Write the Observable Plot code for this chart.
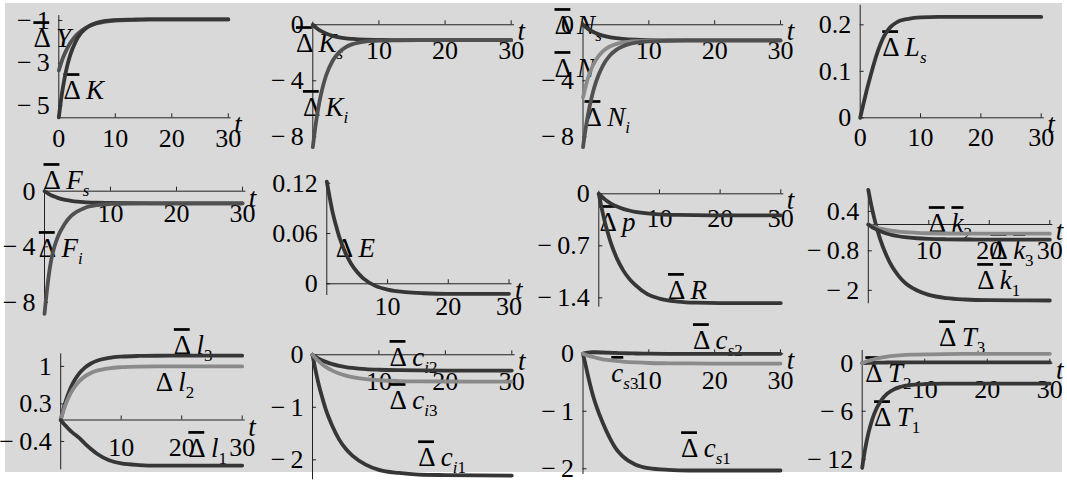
<!DOCTYPE html>
<html><head><meta charset="utf-8">
<script src="https://cdn.jsdelivr.net/npm/d3@7"></script>
<script src="https://cdn.jsdelivr.net/npm/@observablehq/plot@0.6"></script>
<style>
html,body{margin:0;padding:0;background:#fff;}
#chart{position:relative;width:1067px;height:490px;overflow:hidden;}
#bg{position:absolute;left:5px;top:3px;width:1057px;height:469px;background:#d9d9d9;}
#chart svg{position:absolute;left:0;top:0;}
#chart svg text{font-family:"Liberation Serif","Times New Roman",serif !important;}
</style></head><body><div id="chart"><div id="bg"></div></div>
<script>
// time grid
const T = [0,0.5,1,1.5,2,3,4,5,6,8,10,13,16,20,30];
// panel 1
const dY  = [-3.35,-2.93,-2.59,-2.31,-2.07,-1.72,-1.48,-1.31,-1.20,-1.07,-1.00,-0.97,-0.95,-0.95,-0.95];
const dK  = [-5.55,-4.53,-3.74,-3.12,-2.64,-1.98,-1.57,-1.33,-1.18,-1.03,-0.98,-0.96,-0.95,-0.95,-0.95];
// panel 2
const dKs = [0,-0.21,-0.38,-0.51,-0.62,-0.79,-0.90,-0.97,-1.01,-1.06,-1.08,-1.10,-1.10,-1.10,-1.10];
const dKi = [-8.74,-6.91,-5.51,-4.45,-3.64,-2.57,-1.95,-1.59,-1.38,-1.19,-1.13,-1.11,-1.10,-1.10,-1.10];
// panel 3
const dNs = [0,-0.20,-0.37,-0.50,-0.61,-0.78,-0.89,-0.96,-1.01,-1.07,-1.10,-1.12,-1.12,-1.12,-1.12];
const dN  = [-5.2,-4.22,-3.47,-2.91,-2.48,-1.90,-1.57,-1.38,-1.27,-1.17,-1.14,-1.12,-1.12,-1.12,-1.12];
const dNi = [-8.74,-7.12,-5.84,-4.83,-4.04,-2.93,-2.24,-1.81,-1.55,-1.28,-1.18,-1.14,-1.12,-1.12,-1.12];
// panel 4
const dLs = [0,0.028,0.055,0.08,0.104,0.146,0.177,0.195,0.205,0.213,0.216,0.217,0.217,0.217,0.217];
// panel 5
const dFs = [0,-0.16,-0.29,-0.39,-0.48,-0.61,-0.69,-0.75,-0.79,-0.83,-0.85,-0.865,-0.87,-0.87,-0.87];
const dFi = [-8.82,-6.6,-5.0,-4.0,-3.3,-2.4,-1.8,-1.45,-1.22,-1.0,-0.92,-0.885,-0.875,-0.87,-0.87];
// panel 6
const dE  = [0.122,0.102,0.084,0.070,0.057,0.038,0.024,0.014,0.0065,-0.0025,-0.007,-0.010,-0.0113,-0.012,-0.012];
// panel 7
const dp  = [0,-0.04,-0.075,-0.105,-0.131,-0.172,-0.203,-0.225,-0.242,-0.264,-0.276,-0.284,-0.288,-0.29,-0.29];
const dR  = [0,-0.204,-0.381,-0.532,-0.663,-0.872,-1.027,-1.142,-1.227,-1.35,-1.41,-1.45,-1.465,-1.47,-1.47];
// panel 8
const dk1 = [1.05,0.58,0.18,-0.17,-0.47,-0.94,-1.30,-1.56,-1.76,-2.00,-2.14,-2.24,-2.28,-2.30,-2.31];
const dk2 = [0,-0.04,-0.07,-0.10,-0.126,-0.166,-0.196,-0.218,-0.234,-0.255,-0.266,-0.274,-0.278,-0.28,-0.28];
const dk3 = [0,-0.064,-0.119,-0.167,-0.207,-0.273,-0.321,-0.357,-0.384,-0.418,-0.437,-0.45,-0.456,-0.459,-0.46];
// panel 9
const dl3 = [0,0.227,0.412,0.56,0.682,0.859,0.977,1.054,1.104,1.158,1.182,1.195,1.199,1.2,1.2];
const dl2 = [0,0.19,0.343,0.467,0.568,0.716,0.814,0.878,0.92,0.965,0.985,0.996,0.999,1.0,1.0];
const dl1 = [0,-0.07,-0.13,-0.19,-0.24,-0.33,-0.44,-0.54,-0.63,-0.75,-0.81,-0.84,-0.85,-0.85,-0.85];
// panel 10
const dci1 = [0,-0.32,-0.60,-0.83,-1.04,-1.36,-1.61,-1.79,-1.92,-2.09,-2.19,-2.25,-2.28,-2.29,-2.30];
const dci2 = [0,-0.042,-0.078,-0.109,-0.135,-0.178,-0.21,-0.233,-0.25,-0.273,-0.285,-0.294,-0.298,-0.3,-0.3];
const dci3 = [0,-0.071,-0.132,-0.185,-0.23,-0.302,-0.356,-0.396,-0.426,-0.464,-0.485,-0.5,-0.506,-0.509,-0.51];
// panel 11
const dcs1 = [0,-0.25,-0.5,-0.72,-0.9,-1.2,-1.45,-1.65,-1.78,-1.93,-1.99,-2.02,-2.03,-2.03,-2.03];
const dcs2 = [0,0.015,0.025,0.028,0.028,0.025,0.02,0.015,0.01,0.005,0.002,0,0,0,0];
const dcs3 = [0,-0.02,-0.04,-0.055,-0.07,-0.095,-0.11,-0.125,-0.135,-0.15,-0.16,-0.165,-0.168,-0.17,-0.17];
// panel 12
const dT1 = [-13.05,-10.6,-8.73,-7.30,-6.18,-4.69,-3.81,-3.30,-2.99,-2.70,-2.60,-2.56,-2.55,-2.55,-2.55];
const dT2 = [0,0.02,0.04,0.05,0.06,0.08,0.09,0.1,0.1,0.1,0.1,0.1,0.1,0.1,0.1];
const dT3 = [0,0.163,0.303,0.424,0.528,0.694,0.818,0.909,0.977,1.064,1.112,1.147,1.161,1.167,1.17];

// ticks
const xTicks = [10,20,30];
const xLabelsA = [0,10,20,30];
const xLabelsB = [10,20,30];
const yTicks1 = [-1,-3,-5],   yLab1 = ["−\u20091","−\u20093","−\u20095"];
const yTicks2 = [0,-4,-8],    yLab2 = ["0","−\u20094","−\u20098"];
const yTicks4 = [0,0.1,0.2],  yLab4 = ["0","0.1","0.2"];
const yTicks6 = [0,0.06,0.12],yLab6 = ["0","0.06","0.12"];
const yTicks7 = [0,-0.7,-1.4],yLab7 = ["0","−\u20090.7","−\u20091.4"];
const yTicks8 = [0.4,-0.8,-2],yLab8 = ["0.4","−\u20090.8","−\u20092"];
const yTicks9 = [1,0.3,-0.4], yLab9 = ["1","0.3","−\u20090.4"];
const yTicks10 = [0,-1,-2],   yLab10 = ["0","−\u20091","−\u20092"];
const yTicks12 = [0,-6,-12],  yLab12 = ["0","−\u20096","−\u200912"];

const DARK="#363636", MID="#505050", LIGHT="#8a8a8a", AX="#222";

const panels = [
 {s:[[dY,MID],[dK,DARK]], x:[58.3,227.8], y:[-5.57,-0.77], r:[117.3,15.1], at:-5.57, xl:xLabelsA, yt:yTicks1, yl:yLab1, ldy:21,
  lab:[["‾Δ Y",-4.5,-1.85],["‾Δ K",0.83,-4.29]]},
 {s:[[dKs,DARK],[dKi,MID]], x:[312.3,510.7], y:[-8.74,0.19], r:[146.7,21.6], at:0, xl:xLabelsB, yt:yTicks2, yl:yLab2, ldy:26,
  lab:[["‾Δ K_s",-2.55,-1.34],["‾Δ K_i",-1.5,-5.9]]},
 {s:[[dNs,DARK],[dN,LIGHT],[dNi,MID]], x:[582.5,780], y:[-8.74,0.19], r:[146.7,21.6], at:0, xl:xLabelsB, yt:yTicks2, yl:yLab2, ldy:26,
  lab:[["‾Δ N_s",-4.33,-0.05],["‾Δ N",-4.33,-3.12],["‾Δ N_i",0.23,-6.62]]},
 {s:[[dLs,DARK]], x:[859.7,1040.7], y:[0,0.242], r:[117.3,4.8], at:0, xl:xLabelsA, yt:yTicks4, yl:yLab4, ldy:19.5,
  lab:[["‾Δ L_s",3.65,0.151]]},
 {s:[[dFs,DARK],[dFi,MID]], x:[44,242], y:[-8.82,0.2], r:[313.3,187.9], at:0, xl:xLabelsB, yt:yTicks2, yl:yLab2, ldy:22.5,
  lab:[["‾Δ F_s",-0.15,0.77],["‾Δ F_i",-0.86,-4.12]]},
 {s:[[dE,DARK]], x:[326.3,508.5], y:[-0.014,0.1233], r:[295,180], at:0, xl:xLabelsB, yt:yTicks6, yl:yLab6, ldy:22.5,
  lab:[["Δ E",1.48,0.042]]},
 {s:[[dp,DARK],[dR,DARK]], x:[598.3,780.3], y:[-1.526,0.035], r:[306.7,190.7], at:0, xl:xLabelsB, yt:yTicks7, yl:yLab7, ldy:25,
  lab:[["‾Δ p",0.1,-0.386],["‾Δ R",11.4,-1.30]]},
 {s:[[dk1,DARK],[dk2,LIGHT],[dk3,DARK]], x:[867.8,1049.3], y:[-2.41,1.085], r:[303.3,188.3], at:0, xl:xLabelsB, yt:yTicks8, yl:yLab8, ldy:26,
  lab:[["‾Δ ‾k_2",10.0,0.03],["‾Δ ‾k_3",20.2,-0.79],["‾Δ ‾k_1",18.0,-1.70]]},
 {s:[[dl3,DARK],[dl2,LIGHT],[dl1,DARK]], x:[60.2,241.7], y:[-0.929,1.235], r:[469.3,353.3], at:0, xl:xLabelsB, yt:yTicks9, yl:yLab9, ldy:28,
  lab:[["‾Δ l_3",18.7,1.39],["‾Δ l_2",15.7,0.70],["‾Δ l_1",21.1,-0.53]]},
 {s:[[dci1,DARK],[dci2,DARK],[dci3,LIGHT]], x:[312,511.3], y:[-2.38,0.03], r:[479.3,352.7], at:0, xl:xLabelsB, yt:yTicks10, yl:yLab10, ldy:27,
  lab:[["‾Δ c_i2",11.6,-0.05],["‾Δ c_i3",11.6,-0.87],["‾Δ c_i1",15.9,-1.96]]},
 {s:[[dcs1,DARK],[dcs2,DARK],[dcs3,LIGHT]], x:[582.5,780], y:[-2.1,0.026], r:[474,351.8], at:0, xl:xLabelsB, yt:yTicks10, yl:yLab10, ldy:27,
  lab:[["‾Δ c_s2",16.7,0.23],["‾c_s3",4.3,-0.34],["‾Δ c_s1",14.9,-1.65]]},
 {s:[[dT1,DARK],[dT2,DARK],[dT3,LIGHT]], x:[861.7,1049.3], y:[-13.41,1.59], r:[470,350], at:0, xl:xLabelsB, yt:yTicks12, yl:yLab12, ldy:26,
  lab:[["‾Δ T_3",12.3,3.2],["‾Δ T_2",0.5,-1.29],["‾Δ T_1",1.9,-6.8]]}
];

const SVGNS = "http://www.w3.org/2000/svg";
function richify(svg) {
  svg.querySelectorAll("text").forEach(el => {
    const s = el.textContent;
    if (!/[‾_Δ]/.test(s)) return;
    while (el.firstChild) el.removeChild(el.firstChild);
    let bar = false, sub = false, firstSub = false;
    for (const ch of Array.from(s)) {
      if (ch === "‾") { bar = true; continue; }
      if (ch === "_") { sub = true; firstSub = true; continue; }
      const ts = document.createElementNS(SVGNS, "tspan");
      ts.textContent = ch;
      if (/[A-Za-z]/.test(ch)) ts.setAttribute("font-style", "italic");
      if (bar) {
        ts.setAttribute("text-decoration", "overline");
        ts.style.textDecoration = "overline";
        ts.style.textDecorationThickness = "1.3px";
        bar = false;
      }
      if (sub) {
        ts.setAttribute("font-size", "17");
        if (firstSub) { ts.setAttribute("dy", "7"); firstSub = false; }
      }
      el.appendChild(ts);
    }
  });
}

const chart = document.getElementById("chart");
panels.forEach(p => {
  const at = p.at;
  const marks = [
    Plot.ruleY([at], {y: d => d, x1: () => 0, x2: () => 30.5, stroke: AX, strokeWidth: 1}),
    Plot.ruleX([0], {x: d => d, y1: () => p.y[0], y2: () => p.y[1], stroke: AX, strokeWidth: 1}),
    Plot.ruleX(xTicks, {x: d => d, y1: () => at, y2: () => at, insetTop: -4, stroke: AX, strokeWidth: 1}),
    Plot.ruleY(p.yt, {y: d => d, x1: () => 0, x2: () => 0, insetRight: -4, stroke: AX, strokeWidth: 1}),
    Plot.text(p.xl, {x: d => d, y: () => at, dy: p.ldy, text: d => String(d), fontSize: 26, fill: "#000"}),
    Plot.text(p.yt, {x: () => 0, y: d => d, dx: -9, textAnchor: "end", text: (d, i) => p.yl[i], fontSize: 26, fill: "#000"}),
    Plot.text(p.lab, {x: d => d[1], y: d => d[2], text: d => d[0], textAnchor: "start", fontSize: 27, fill: "#000"}),
    ...p.s.map(([vals, color]) => Plot.line(T.map((t, i) => ({t, v: vals[i]})), {x: "t", y: "v", stroke: color, strokeWidth: 3.8, curve: "monotone-x"})),
    Plot.text(["t"], {x: () => 30.5, y: () => at, dx: 3, dy: 7, text: d => d, textAnchor: "start", fontStyle: "italic", fontSize: 27, fill: "#000"})
  ];
  const svg = Plot.plot({
    width: 1067, height: 490, margin: 0,
    x: {domain: [0, 30], range: p.x, axis: null},
    y: {domain: p.y, range: p.r, axis: null},
    style: {background: "transparent", overflow: "visible", fontFamily: "'Liberation Serif', 'Times New Roman', serif"},
    marks
  });
  svg.style.position = "absolute"; svg.style.left = "0px"; svg.style.top = "0px";
  richify(svg);
  chart.appendChild(svg);
});
</script></body></html>
